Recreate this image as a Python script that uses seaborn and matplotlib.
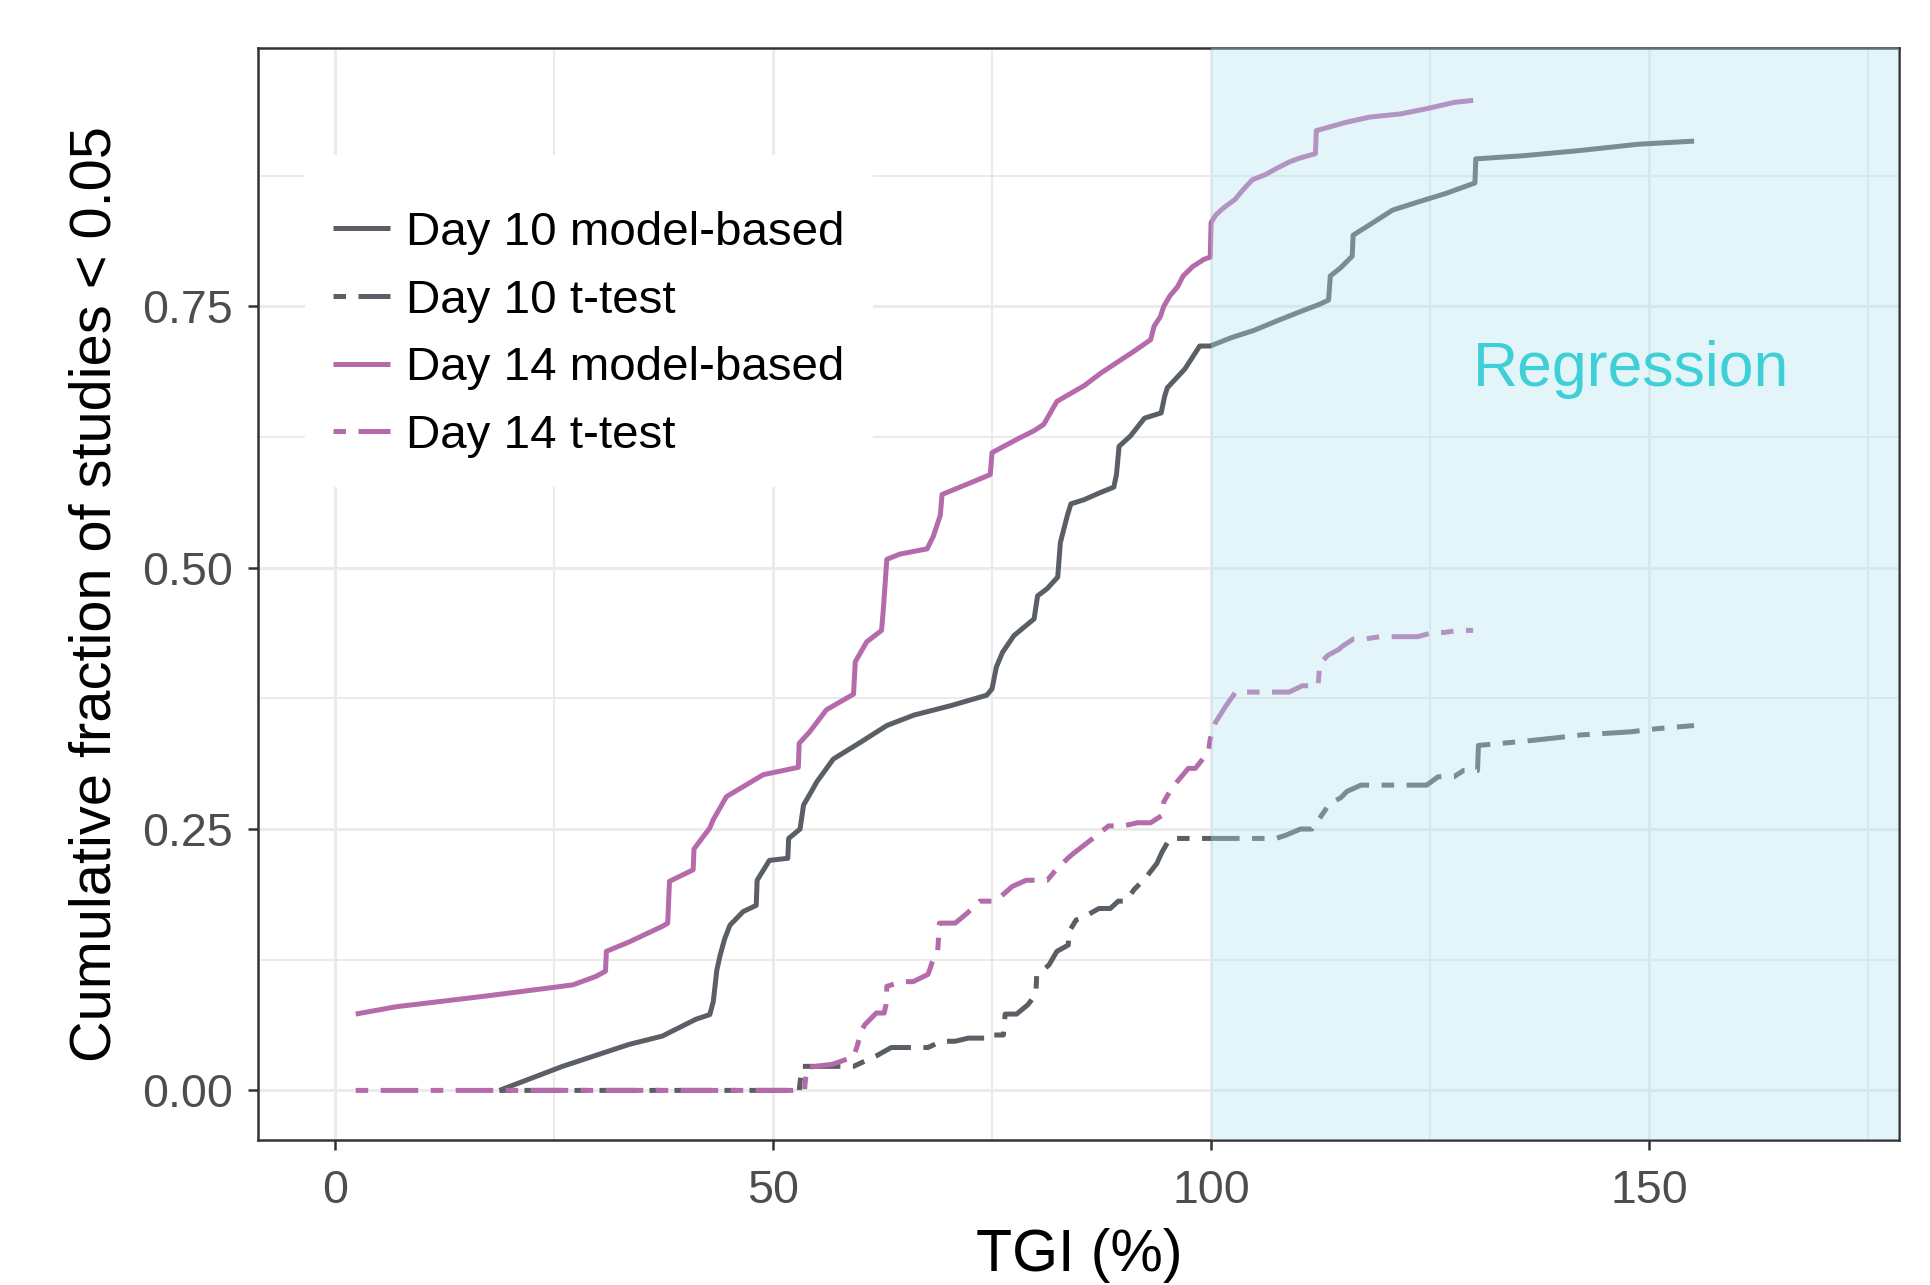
import numpy as np
import pandas as pd
import matplotlib
matplotlib.use("Agg")
import matplotlib.pyplot as plt
import seaborn as sns

# ---------------- data ----------------
d10_model_x = [18.8, 26.0, 33.6, 37.4, 41.2, 42.8, 43.2, 43.6, 44.0, 44.5, 45.1, 46.6, 48.1, 48.2,
               49.6, 51.7, 51.8, 53.1, 53.5, 54.4, 55.0, 56.9, 60.0, 63.0, 66.1, 70.3, 74.4, 75.0,
               75.5, 76.2, 77.5, 79.8, 80.2, 81.3, 82.5, 82.8, 83.6, 84.0, 85.5, 87.4, 88.9, 89.2,
               89.5, 90.8, 92.4, 94.3, 94.7, 95.0, 97.0, 98.7, 99.9, 102.3, 104.9, 107.5, 110.2,
               112.4, 113.4, 113.6, 114.8, 116.1, 116.2, 118.1, 120.7, 123.7, 126.8, 130.1, 130.2,
               135.6, 142.1, 148.7, 155.1]
d10_model_y = [0.0, 0.023, 0.044, 0.052, 0.068, 0.0725, 0.085, 0.115, 0.13, 0.145, 0.158, 0.171,
               0.177, 0.201, 0.22, 0.222, 0.241, 0.25, 0.273, 0.286, 0.295, 0.317, 0.333, 0.349,
               0.359, 0.368, 0.378, 0.384, 0.405, 0.419, 0.435, 0.451, 0.473, 0.48, 0.491, 0.524,
               0.55, 0.561, 0.565, 0.572, 0.577, 0.589, 0.616, 0.626, 0.643, 0.648, 0.664, 0.672,
               0.690, 0.712, 0.712, 0.72, 0.727, 0.736, 0.745, 0.752, 0.756, 0.779, 0.787, 0.798,
               0.818, 0.828, 0.842, 0.85, 0.858, 0.868, 0.891, 0.894, 0.899, 0.905, 0.908]

d10_ttest_x = [18.8, 53.0, 53.3, 59.2, 61.8, 63.5, 67.7, 69.2, 70.8, 72.3, 74.5, 74.6, 76.3, 76.5,
               77.8, 79.1, 80.0, 80.1, 81.5, 82.4, 83.7, 83.8, 84.6, 85.3, 87.2, 88.5, 89.4, 90.3,
               91.2, 92.5, 93.8, 94.4, 95.3, 107.4, 108.5, 110.2, 111.5, 112.6, 113.5, 114.8, 115.5,
               117.1, 124.6, 125.9, 127.7, 128.8, 130.4, 130.5, 133.2, 136.9, 139.1, 142.2, 147.9,
               150.9, 155.1]
d10_ttest_y = [0.0, 0.0, 0.023, 0.023, 0.033, 0.041, 0.041, 0.047, 0.047, 0.05, 0.05, 0.053, 0.053,
               0.073, 0.073, 0.082, 0.092, 0.11, 0.12, 0.133, 0.139, 0.152, 0.163, 0.165, 0.174,
               0.174, 0.181, 0.181, 0.192, 0.203, 0.217, 0.228, 0.241, 0.241, 0.244, 0.25, 0.25,
               0.263, 0.274, 0.28, 0.286, 0.292, 0.292, 0.30, 0.30, 0.306, 0.306, 0.33, 0.332,
               0.335, 0.337, 0.34, 0.343, 0.346, 0.349]

d14_model_x = [2.4, 7.0, 12.0, 17.0, 24.5, 27.2, 29.8, 30.9, 31.0, 33.6, 37.4, 38.0, 38.2, 40.9,
               41.0, 42.8, 43.2, 44.7, 48.9, 52.9, 53.0, 54.2, 56.1, 59.2, 59.4, 60.7, 62.4, 62.6,
               63.0, 64.5, 67.6, 68.3, 69.1, 69.3, 72.2, 74.8, 75.0, 77.9, 79.8, 80.9, 82.4, 85.5,
               87.4, 91.2, 93.1, 93.5, 94.2, 94.6, 95.3, 96.2, 96.8, 97.9, 99.2, 99.9, 100.0, 100.5,
               101.4, 102.7, 103.6, 104.7, 106.2, 107.5, 108.9, 110.2, 111.9, 112.0, 113.7, 115.4,
               118.1, 121.6, 124.6, 127.7, 129.9]
d14_model_y = [0.073, 0.08, 0.085, 0.09, 0.098, 0.101, 0.109, 0.114, 0.133, 0.142, 0.157, 0.160,
               0.2, 0.211, 0.231, 0.251, 0.259, 0.281, 0.302, 0.309, 0.332, 0.343, 0.364, 0.379,
               0.41, 0.429, 0.44, 0.46, 0.508, 0.513, 0.518, 0.530, 0.55, 0.570, 0.58, 0.589, 0.61,
               0.623, 0.631, 0.637, 0.659, 0.674, 0.686, 0.707, 0.718, 0.731, 0.74, 0.75, 0.76,
               0.769, 0.779, 0.788, 0.795, 0.797, 0.83, 0.837, 0.844, 0.852, 0.861, 0.871, 0.876,
               0.882, 0.888, 0.892, 0.896, 0.918, 0.922, 0.926, 0.931, 0.934, 0.939, 0.945, 0.947]

d14_ttest_x = [2.4, 53.6, 53.7, 53.9, 56.8, 59.2, 59.6, 60.1, 60.5, 61.8, 62.7, 62.9, 63.0, 64.7,
               66.0, 67.7, 68.2, 68.8, 68.9, 69.0, 70.8, 72.1, 73.6, 75.4, 76.9, 77.3, 78.9, 81.3,
               82.0, 82.4, 83.9, 84.8, 86.5, 87.4, 88.3, 90.0, 91.6, 93.1, 94.4, 94.6, 95.5, 97.4,
               98.2, 99.7, 99.9, 100.5, 101.7, 102.8, 108.9, 110.4, 112.2, 112.4, 113.3, 114.6,
               115.0, 116.3, 117.7, 119.3, 123.6, 125.3, 126.6, 128.2, 129.9]
d14_ttest_y = [0.0, 0.0, 0.009, 0.022, 0.025, 0.032, 0.042, 0.057, 0.063, 0.074, 0.074, 0.082,
               0.0995, 0.104, 0.104, 0.111, 0.123, 0.133, 0.146, 0.16, 0.16, 0.169, 0.181, 0.181,
               0.192, 0.195, 0.201, 0.201, 0.208, 0.212, 0.224, 0.23, 0.241, 0.247, 0.253, 0.253,
               0.256, 0.256, 0.263, 0.276, 0.289, 0.308, 0.308, 0.324, 0.336, 0.352, 0.368, 0.381,
               0.381, 0.387, 0.387, 0.408, 0.416, 0.422, 0.425, 0.432, 0.432, 0.434, 0.434, 0.438,
               0.438, 0.44, 0.44]

series_labels = ["Day 10 model-based", "Day 10 t-test", "Day 14 model-based", "Day 14 t-test"]
x_ticks = [0, 50, 100, 150]
y_ticks = [0.0, 0.25, 0.50, 0.75]
y_tick_labels = ["0.00", "0.25", "0.50", "0.75"]

# ---------------- style ----------------
sns.set_theme(style="white")
plt.rcParams["font.family"] = ["Liberation Sans", "DejaVu Sans"]
plt.rcParams["lines.scale_dashes"] = False

GRAY = "#5a5f65"
PURPLE = "#b46aab"
TWODASH = (9, 9, 27, 9)

fig = plt.figure(figsize=(19.3, 12.85), dpi=100)
ax = fig.add_axes([0.1339, 0.1128, 0.8501, 0.8502])

series = [
    (d10_model_x, d10_model_y, GRAY, None),
    (d10_ttest_x, d10_ttest_y, GRAY, TWODASH),
    (d14_model_x, d14_model_y, PURPLE, None),
    (d14_ttest_x, d14_ttest_y, PURPLE, TWODASH),
]
for (xs, ys, col, dash), lab in zip(series, series_labels):
    df = pd.DataFrame({"x": xs, "y": ys})
    sns.lineplot(data=df, x="x", y="y", ax=ax, color=col, linewidth=3.6,
                 sort=False, estimator=None, label=lab, zorder=2)
    line = ax.lines[-1]
    line.set_solid_capstyle("butt")
    line.set_dash_capstyle("butt")
    if dash is not None:
        line.set_dashes(dash)

# regression shaded region (drawn on top, semi-transparent)
ax.axvspan(100, 250, facecolor=(177 / 255, 229 / 255, 238 / 255), alpha=0.35, lw=0, zorder=3)
ax.text(147.9, 0.69, "Regression", color="#3fcfd6", fontsize=45, ha="center", va="center",
        zorder=4)

ax.set_xlim(-8.7, 178.5)
ax.set_ylim(-0.0475, 0.9975)
ax.set_xticks(x_ticks)
ax.set_xticklabels([str(v) for v in x_ticks])
ax.set_yticks(y_ticks)
ax.set_yticklabels(y_tick_labels)
ax.set_xticks([25, 75, 125, 175], minor=True)
ax.set_yticks([0.125, 0.375, 0.625, 0.875], minor=True)

ax.set_axisbelow(True)
ax.grid(which="major", color="#ebebeb", linewidth=2.2)
ax.grid(which="minor", color="#ebebeb", linewidth=1.5)

for sp in ax.spines.values():
    sp.set_visible(True)
    sp.set_color("#333333")
    sp.set_linewidth(1.8)

ax.tick_params(which="major", bottom=True, left=True, direction="out", length=7.5,
               width=1.8, color="#333333", labelsize=33.5, labelcolor="#4d4d4d")
ax.tick_params(axis="x", which="major", pad=13)
ax.tick_params(axis="y", which="major", pad=11)
ax.tick_params(which="minor", bottom=False, left=False, length=0)

ax.set_xlabel("TGI (%)", fontsize=42.5, color="black")
ax.set_ylabel("Cumulative fraction of studies < 0.05", fontsize=41.6, color="black")
ax.xaxis.set_label_coords(0.5, -0.106)
ax.xaxis.label.set_va("center")
ax.yaxis.set_label_coords(-0.099, 0.5)
ax.yaxis.label.set_va("center")

leg = ax.legend(loc="upper left", bbox_to_anchor=(0.0282, 0.902), borderaxespad=0,
                frameon=True, fancybox=False, facecolor="white", edgecolor="none",
                framealpha=1, fontsize=34.2, handlelength=1.2, handletextpad=0.33,
                labelspacing=0.5, borderpad=0.6, title=" ", title_fontsize=3)
leg.set_zorder(5)
for t in leg.get_texts():
    t.set_color("black")

fig.savefig("out.png", dpi=100, facecolor="white")
